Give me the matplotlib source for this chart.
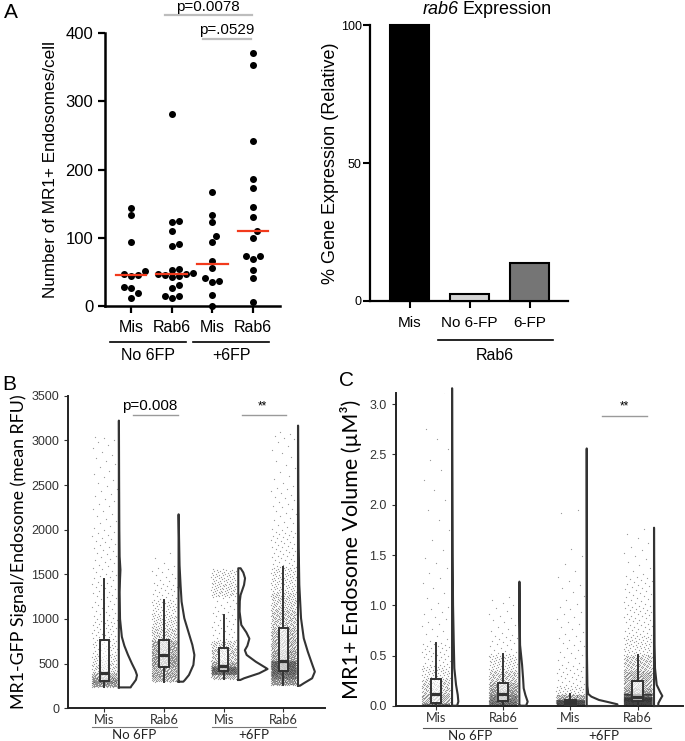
import numpy as np
import matplotlib
matplotlib.use("Agg")
import matplotlib.pyplot as plt
from matplotlib.lines import Line2D
from matplotlib.patches import Rectangle

plt.rcParams['font.family'] = ['Liberation Sans', 'DejaVu Sans']

# ======================= DATA =======================
# Panel A (left) - number of MR1+ endosomes per cell
a_tick_labels = ["Mis", "Rab6", "Mis", "Rab6"]
a_group_labels = ["No 6FP", "+6FP"]
a_mis_no6fp = [144, 133.5, 94, 51, 47, 45.5, 44, 28, 26, 18.5, 12]
a_rab6_no6fp = [281, 125, 123, 110, 91, 88.5, 54, 53, 49, 47, 46.5, 45, 44, 43, 31, 26, 15, 14, 12]
a_mis_6fp = [167, 134, 123, 103, 94, 66.5, 56, 40.5, 37, 35, 16, 0]
a_rab6_6fp = [371.5, 353.5, 242.5, 187, 172.5, 145, 131, 109.5, 100, 74, 73, 69, 53, 40.5, 6]
a_pvalues = ["p=0.0078", "p=.0529"]

# Panel A (right) - rab6 expression
bar_labels = ["Mis", "No 6-FP", "6-FP"]
bar_values = [100, 2.4, 13.7]
bar_group_label = "Rab6"

# Panel B - MR1-GFP signal per endosome
bc_tick_labels = ["Mis", "Rab6", "Mis", "Rab6"]
bc_group_labels = ["No 6FP", "+6FP"]
# box stats: [whisker low, q1, median, q3, whisker high]
b_box_mis_no = [242, 309, 400, 765, 1448]
b_box_rab_no = [298, 466, 597, 760, 1213]
b_box_mis_fp = [328, 418, 470, 672, 1045]
b_box_rab_fp = [261, 418, 533, 896, 1586]
# point clouds as histograms (bin edges, counts)
b_edges_mis_no = [240, 280, 309, 350, 400, 500, 600, 765, 1000, 1500, 2000, 2500, 3000, 3050]
b_counts_mis_no = [70, 70, 80, 60, 50, 35, 35, 35, 40, 30, 18, 14, 3]
b_edges_rab_no = [298, 350, 400, 466, 530, 597, 680, 760, 900, 1050, 1213, 1400, 1600, 1760]
b_counts_rab_no = [60, 80, 85, 110, 115, 115, 110, 90, 60, 40, 20, 12, 3]
b_edges_mis_fp = [328, 380, 418, 445, 470, 520, 600, 672, 760, 1045, 1250, 1400, 1560]
b_counts_mis_fp = [60, 140, 110, 90, 80, 60, 60, 50, 25, 15, 60, 50]
b_edges_rab_fp = [261, 330, 380, 418, 470, 533, 650, 780, 896, 1100, 1300, 1586, 2000, 2500, 3000, 3100]
b_counts_rab_fp = [140, 160, 150, 200, 250, 180, 150, 120, 160, 110, 90, 45, 25, 12, 5]
# half-violin outlines: value, relative density
b_vval_mis_no = [234, 250, 280, 320, 370, 420, 500, 600, 700, 800, 1000, 1300, 1450, 1550, 1700, 2000, 2500, 3221]
b_vden_mis_no = [11.7, 12.5, 14.5, 17, 18, 16.5, 13, 9, 5.5, 3, 1.2, 0.8, 1.2, 1.6, 0.8, 0.5, 0.3, 0.1]
b_vval_rab_no = [298, 317, 373, 485, 597, 709, 858, 1008, 1194, 1380, 1600, 1900, 2172]
b_vden_rab_no = [4.7, 6.3, 10.3, 14.7, 15.7, 13.7, 9.7, 5.7, 3, 2, 1, 0.5, 0.1]
b_vval_mis_fp = [317, 336, 392, 440, 448, 522, 597, 650, 700, 780, 850, 933, 1082, 1200, 1269, 1381, 1456, 1520, 1568]
b_vden_mis_fp = [2, 5.7, 20.7, 29, 28, 17.3, 8.3, 6.5, 9, 11, 8, 3, 1.3, 1.5, 2.3, 5.7, 6.7, 5, 2.3]
b_vval_rab_fp = [253, 280, 336, 410, 485, 634, 784, 1008, 1381, 1800, 2500, 3165]
b_vden_rab_fp = [2, 5.7, 14, 16.7, 14.3, 9.7, 5.7, 3, 1.3, 0.7, 0.3, 0.1]
b_sig = ["p=0.008", "**"]

# Panel C - MR1+ endosome volume
c_box_mis_no = [0.0, 0.027, 0.116, 0.268, 0.63]
c_box_rab_no = [0.0, 0.05, 0.116, 0.232, 0.514]
c_box_mis_fp = [0.0, 0.01, 0.037, 0.063, 0.116]
c_box_rab_fp = [0.0, 0.05, 0.09, 0.248, 0.507]
c_edges_mis_no = [0, 0.027, 0.07, 0.116, 0.19, 0.268, 0.4, 0.63, 1.0, 1.5, 2.0, 2.5, 2.8, 3.1, 3.15]
c_counts_mis_no = [125, 60, 65, 65, 60, 50, 35, 15, 10, 5, 5, 3, 0, 1]
c_edges_rab_no = [0, 0.05, 0.08, 0.116, 0.17, 0.232, 0.35, 0.514, 0.7, 0.9, 1.1]
c_counts_rab_no = [225, 110, 115, 115, 110, 110, 70, 18, 10, 7]
c_edges_mis_fp = [0, 0.01, 0.037, 0.063, 0.116, 0.2, 0.4, 0.7, 1.0, 1.3, 1.6, 1.9, 1.96]
c_counts_mis_fp = [200, 200, 200, 100, 30, 25, 18, 12, 8, 4, 0, 2]
c_edges_rab_fp = [0, 0.05, 0.09, 0.11, 0.125, 0.18, 0.248, 0.35, 0.507, 0.7, 1.0, 1.3, 1.6, 1.78]
c_counts_rab_fp = [450, 450, 80, 170, 110, 90, 150, 130, 60, 45, 30, 10, 4]
c_vval_mis_no = [0.003, 0.043, 0.11, 0.21, 0.375, 0.64, 1.0, 1.5, 2.0, 2.6, 3.158]
c_vden_mis_no = [5, 6.3, 5.7, 4, 2.3, 1.7, 1.0, 0.6, 0.4, 0.2, 0.1]
c_vval_rab_no = [0.003, 0.043, 0.11, 0.176, 0.275, 0.41, 0.606, 0.9, 1.236]
c_vden_rab_no = [6.7, 8.3, 6, 4.3, 3.7, 2.7, 0.7, 0.3, 0.1]
c_vval_mis_fp = [0.0, 0.017, 0.037, 0.06, 0.093, 0.12, 0.2, 0.5, 1.0, 2.0, 2.56]
c_vden_mis_fp = [30.7, 30.7, 22.3, 12.3, 4.7, 1.5, 0.7, 0.3, 0.2, 0.1, 0.05]
c_vval_rab_fp = [0.0, 0.027, 0.06, 0.1, 0.142, 0.21, 0.375, 0.6, 1.0, 1.5, 1.772]
c_vden_rab_fp = [4.3, 4.3, 6, 8.3, 6, 2.7, 1, 0.5, 0.3, 0.1, 0.05]
c_sig = ["**"]

# ======================= LAYOUT =======================
W, H = 685, 741
fig = plt.figure(figsize=(W / 100, H / 100), dpi=100)


def rect(x0, y0, x1, y1):
    return [x0 / W, 1 - y1 / H, (x1 - x0) / W, (y1 - y0) / H]


def ftext(x, y, s, **kw):
    kw.setdefault('ha', 'center')
    kw.setdefault('va', 'center')
    fig.text(x / W, 1 - y / H, s, **kw)


def fline(x0, x1, y, **kw):
    fig.add_artist(Line2D([x0 / W, x1 / W], [1 - y / H, 1 - y / H],
                          transform=fig.transFigure, **kw))


# ---------------- Panel A left ----------------
axA = fig.add_axes(rect(105, 33.3, 280, 306))
axA.set_xlim(-0.639, 3.663)
axA.set_ylim(0, 400)
px_x = 175 / (3.663 + 0.639)
px_y = 272.7 / 400
dot_d = 7.0


def swarm(values):
    vals = np.asarray(values, float)
    placed = []
    res = np.zeros(len(vals))
    cands = [0.0]
    for j in range(1, 30):
        cands += [j * dot_d * 0.5, -j * dot_d * 0.5]
    for idx in np.argsort(vals):
        y = vals[idx] * px_y
        for c in cands:
            if all((c - px) ** 2 + (y - py) ** 2 >= (dot_d * 0.97) ** 2 for px, py in placed):
                break
        placed.append((c, y))
        res[idx] = c / px_x
    return res


for i, grp in enumerate([a_mis_no6fp, a_rab6_no6fp, a_mis_6fp, a_rab6_6fp]):
    off = swarm(grp)
    axA.scatter(i + off, grp, s=(dot_d * 0.72) ** 2, color='black', zorder=3, clip_on=False, lw=0)
    med = np.median(grp)
    axA.plot([i - 0.38, i + 0.38], [med, med], color='#f23a1c', lw=1.6, zorder=4)

axA.set_xticks(range(4))
axA.set_xticklabels(a_tick_labels)
axA.set_yticks([0, 100, 200, 300, 400])
axA.tick_params(axis='both', length=5, width=1.6, labelsize=12)
axA.tick_params(axis='x', labelsize=11.5, pad=5)
for s in ['top', 'right']:
    axA.spines[s].set_visible(False)
for s in ['left', 'bottom']:
    axA.spines[s].set_linewidth(1.8)
axA.set_ylabel("Number of MR1+ Endosomes/cell", fontsize=12.3, labelpad=5)

fline(165, 252, 14.7, color='#bdbdbd', lw=1.6)
ftext(208, 6.5, a_pvalues[0], fontsize=11)
fline(203, 251, 39, color='#bdbdbd', lw=1.6)
ftext(227, 30, a_pvalues[1], fontsize=11)
fline(110, 186, 341.7, color='black', lw=1.2)
fline(193, 269, 341.7, color='black', lw=1.2)
ftext(148, 356, a_group_labels[0], fontsize=11.5)
ftext(231, 356, a_group_labels[1], fontsize=11.5)
ftext(11, 12, "A", fontsize=15)

# ---------------- Panel A right ----------------
axR = fig.add_axes(rect(370, 25, 568, 301))
axR.set_xlim(-0.658, 2.64)
axR.set_ylim(0, 100)
axR.bar(range(3), bar_values, width=0.64, color=['black', '#d4d4d4', '#757575'],
        edgecolor='black', lw=1.5, zorder=3, clip_on=False)
axR.set_xticks(range(3))
axR.set_xticklabels(bar_labels, fontsize=11)
axR.set_yticks([0, 50, 100])
axR.tick_params(axis='both', length=5, width=1.5)
axR.tick_params(axis='y', labelsize=9, pad=1)
axR.tick_params(axis='x', pad=6)
for s in ['top', 'right']:
    axR.spines[s].set_visible(False)
for s in ['left', 'bottom']:
    axR.spines[s].set_linewidth(1.6)
axR.set_ylabel("% Gene Expression (Relative)", fontsize=13, labelpad=1)
ftext(459, 10, "rab6", fontsize=13, ha='right', style='italic')
ftext(463, 10, "Expression", fontsize=13, ha='left')
fline(438, 553, 340, color='black', lw=1.2)
ftext(495, 356, bar_group_label, fontsize=11.5)

# ---------------- Panels B and C ----------------
PHI = 0.6180339887498949


def cloud(edges, counts):
    vals = []
    for lo, hi, n in zip(edges[:-1], edges[1:], counts):
        if n > 0:
            vals.extend(lo + (np.arange(n) + 0.5) / n * (hi - lo))
    return np.array(vals)


def raincloud(ax, pos, edges, counts, box, vval, vden, dmax, vmaxw, phase):
    vals = cloud(edges, counts)
    k = np.arange(len(vals))
    jx = (np.mod(k * PHI + phase, 1.0) * 2 - 1) * 0.21
    ax.scatter(pos + jx, vals, s=0.8, color='#333333', alpha=0.5, lw=0, zorder=2)
    wl, q1, med, q3, wh = box
    bw = 0.077
    ax.add_patch(Rectangle((pos - bw, q1), 2 * bw, q3 - q1, facecolor=(1, 1, 1, 0.65),
                           edgecolor='#333333', lw=1.4, zorder=3))
    ax.plot([pos - bw, pos + bw], [med, med], color='#333333', lw=2.3, zorder=4,
            solid_capstyle='butt')
    ax.plot([pos, pos], [q3, wh], color='#333333', lw=1.4, zorder=3)
    ax.plot([pos, pos], [wl, q1], color='#333333', lw=1.4, zorder=3)
    x0 = pos + 0.243
    w = np.asarray(vden) / dmax * vmaxw
    vv = np.asarray(vval)
    xs = np.r_[x0, x0, (x0 + w)[::-1], x0]
    ys = np.r_[vv[0], vv[-1], vv[::-1], vv[0]]
    ax.plot(xs, ys, color='#333333', lw=1.5, zorder=4, solid_joinstyle='round',
            clip_on=False)


def style_bc(ax):
    for s in ['top', 'right']:
        ax.spines[s].set_visible(False)
    for s in ['left', 'bottom']:
        ax.spines[s].set_linewidth(1.4)
        ax.spines[s].set_color('#222222')
    ax.set_xticks(range(4))
    ax.set_xticklabels(bc_tick_labels, fontsize=9.2, family='Lato', color='#333333')
    ax.tick_params(axis='both', length=3, width=0.8, color='#333333', labelcolor='#333333')
    ax.tick_params(axis='y', labelsize=9)
    ax.tick_params(axis='x', pad=1)


axB = fig.add_axes(rect(68.3, 395.7, 325, 708.3))
axB.set_xlim(-0.603, 3.695)
axB.set_ylim(0, 3500)
b_sets = [
    (b_edges_mis_no, b_counts_mis_no, b_box_mis_no, b_vval_mis_no, b_vden_mis_no),
    (b_edges_rab_no, b_counts_rab_no, b_box_rab_no, b_vval_rab_no, b_vden_rab_no),
    (b_edges_mis_fp, b_counts_mis_fp, b_box_mis_fp, b_vval_mis_fp, b_vden_mis_fp),
    (b_edges_rab_fp, b_counts_rab_fp, b_box_rab_fp, b_vval_rab_fp, b_vden_rab_fp),
]
bmax = max(max(s[4]) for s in b_sets)
for i, (e, c, bx, vv, vd) in enumerate(b_sets):
    raincloud(axB, i, e, c, bx, vv, vd, bmax, 0.49, 0.13 * i)
axB.set_yticks(np.arange(0, 3501, 500))
style_bc(axB)
axB.set_ylabel("MR1-GFP Signal/Endosome (mean RFU)", fontsize=12.8, family='Lato', labelpad=3)
ftext(150, 406, b_sig[0], fontsize=11)
fline(133, 178, 415, color='#9a9a9a', lw=1)
ftext(262, 406, b_sig[1], fontsize=8.5)
fline(241.7, 286, 415, color='#9a9a9a', lw=1)
fline(91.7, 176.7, 727, color='#777777', lw=0.8)
fline(211.7, 295.7, 727, color='#777777', lw=0.8)
ftext(134, 735, bc_group_labels[0], fontsize=9.5, family='Lato', color='#222222')
ftext(253.7, 735, bc_group_labels[1], fontsize=9.5, family='Lato', color='#222222')
ftext(9, 384, "B", fontsize=15)

axC = fig.add_axes(rect(395.5, 393.3, 683.3, 706))
axC.set_xlim(-0.597, 3.678)
axC.set_ylim(0, 3.108)
c_sets = [
    (c_edges_mis_no, c_counts_mis_no, c_box_mis_no, c_vval_mis_no, c_vden_mis_no),
    (c_edges_rab_no, c_counts_rab_no, c_box_rab_no, c_vval_rab_no, c_vden_rab_no),
    (c_edges_mis_fp, c_counts_mis_fp, c_box_mis_fp, c_vval_mis_fp, c_vden_mis_fp),
    (c_edges_rab_fp, c_counts_rab_fp, c_box_rab_fp, c_vval_rab_fp, c_vden_rab_fp),
]
cmax = max(max(s[4]) for s in c_sets)
for i, (e, c, bx, vv, vd) in enumerate(c_sets):
    raincloud(axC, i, e, c, bx, vv, vd, cmax, 0.456, 0.29 * i)
axC.set_yticks(np.arange(0, 3.01, 0.5))
axC.set_yticklabels([f"{v:.1f}" for v in np.arange(0, 3.01, 0.5)])
style_bc(axC)
axC.set_ylabel("MR1+ Endosome Volume (\u00b5M\u00b3)", fontsize=15.5, family='Lato', labelpad=5)
ftext(624, 406, c_sig[0], fontsize=8.5)
fline(602, 647, 416, color='#9a9a9a', lw=1)
fline(422.7, 516.7, 728, color='#555555', lw=0.8)
fline(557, 650.7, 728, color='#555555', lw=0.8)
ftext(469.7, 735.5, bc_group_labels[0], fontsize=9.5, family='Lato', color='#222222')
ftext(604, 735.5, bc_group_labels[1], fontsize=9.5, family='Lato', color='#222222')
ftext(347, 381, "C", fontsize=15)

fig.savefig("out.png", dpi=100)
